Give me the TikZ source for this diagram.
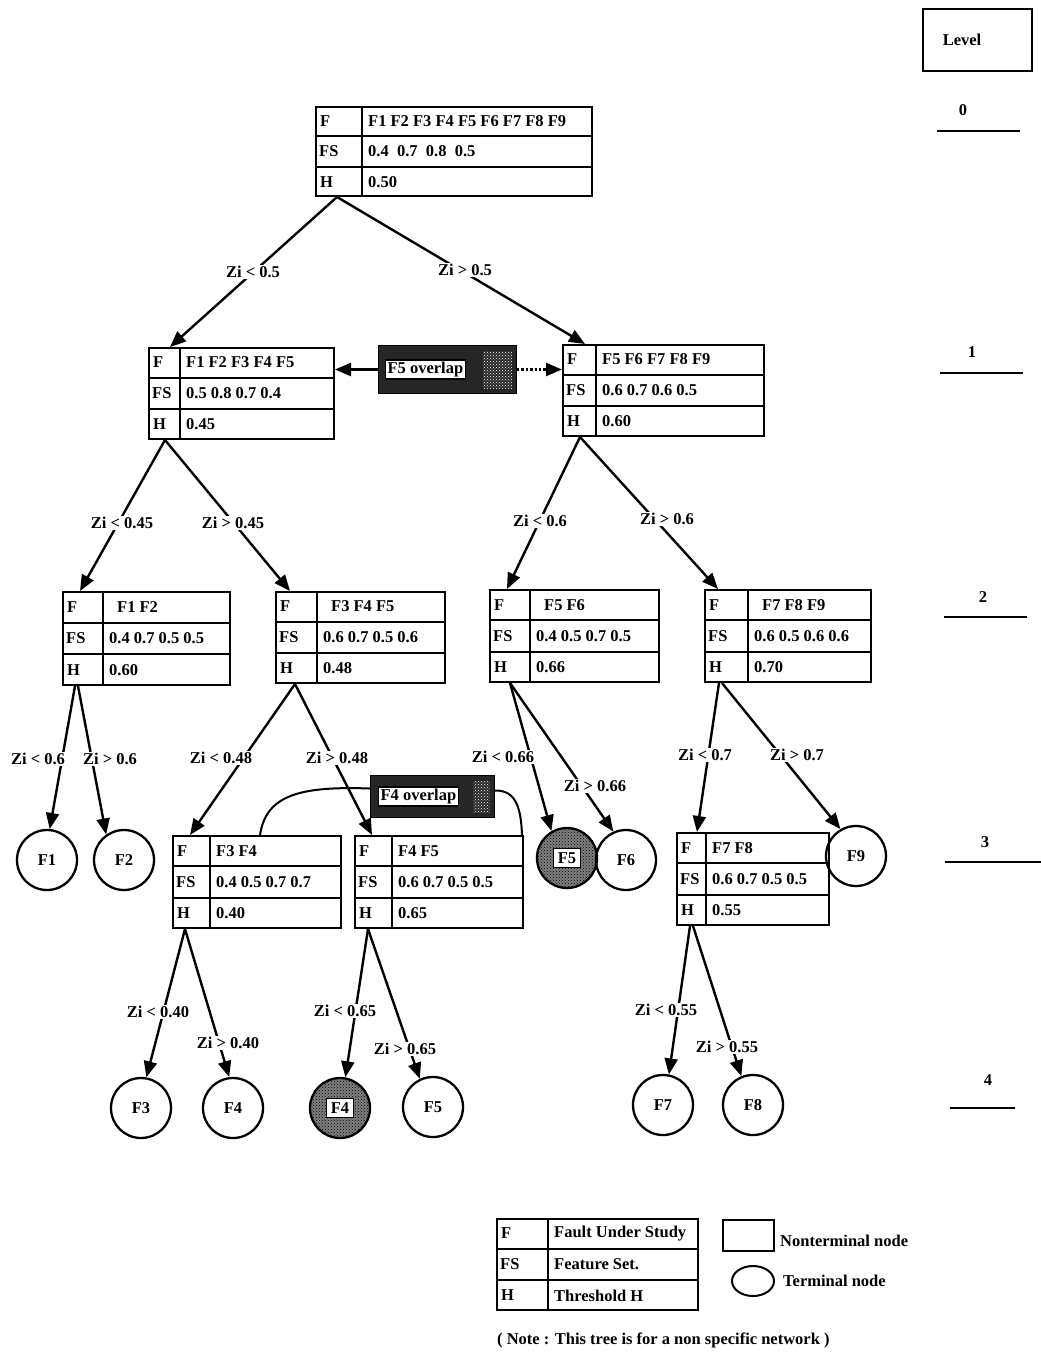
\documentclass[tikz,border=0pt]{standalone}
\usepackage{fontspec}
\setmainfont{Liberation Serif}
\usetikzlibrary{arrows.meta,calc,patterns}
\newcommand\ff{\fontsize{16.5}{16.5}\selectfont\bfseries}
\tikzset{
  tab/.style={draw, line width=2pt, rectangle, inner sep=0pt, anchor=north west},
  cell/.style={anchor=west, inner sep=0pt, font=\ff},
  term/.style={circle, draw, line width=2.3pt, minimum size=60pt, inner sep=0pt, font=\ff},
  edge/.style={line width=2.4pt, -{Triangle[length=16pt,width=13pt]}},
  lbl/.style={fill=white, inner sep=1pt, font=\ff},
  ovbox/.style={fill=black!85, draw=black, line width=1pt, anchor=north west, inner sep=0pt},
  ovlbl/.style={fill=white, draw=black, line width=1.2pt, inner sep=2pt, font=\ff},
  lvl/.style={font=\ff},
  lvlline/.style={line width=1.6pt},
}
% name, x, y, w, h, div, F, FS, H
\newcommand\ftab[9]{%
  \node[tab, minimum width=#4pt, minimum height=#5pt] (#1) at (#2,#3) {};
  \draw[line width=1.8pt] ($(#1.north west)!1/3!(#1.south west)$) -- ($(#1.north east)!1/3!(#1.south east)$);
  \draw[line width=1.8pt] ($(#1.north west)!2/3!(#1.south west)$) -- ($(#1.north east)!2/3!(#1.south east)$);
  \draw[line width=1.8pt] ($(#1.north west)+(#6,0)$) -- ($(#1.south west)+(#6,0)$);
  \node[cell] at ($(#1.north west)!1/6!(#1.south west)+(5,0)$) {F};
  \node[cell] at ($(#1.north west)!1/2!(#1.south west)+(4,0)$) {FS};
  \node[cell] at ($(#1.north west)!5/6!(#1.south west)+(5,0)$) {H};
  \node[cell] at ($(#1.north west)!1/6!(#1.south west)+(#6+6,0)$) {#7};
  \node[cell] at ($(#1.north west)!1/2!(#1.south west)+(#6+6,0)$) {#8};
  \node[cell] at ($(#1.north west)!5/6!(#1.south west)+(#6+6,0)$) {#9};
}
\begin{document}
\begin{tikzpicture}[x=1pt, y=-1pt]
\useasboundingbox (0,0) rectangle (1041,1353);

% Level column
\node[draw, line width=2pt, minimum width=109pt, minimum height=62pt, anchor=north west] (levelbox) at (922,8) {};
\node[lvl] (leveltext) at (962,40) {Level};
\node[lvl] (lv0) at (963,110) {0};
\draw[lvlline] (937,131) -- (1020,131);
\node[lvl] (lv1) at (972,352) {1};
\draw[lvlline] (940,373) -- (1023,373);
\node[lvl] (lv2) at (983,597) {2};
\draw[lvlline] (944,617) -- (1027,617);
\node[lvl] (lv3) at (985,842) {3};
\draw[lvlline] (945,862) -- (1041,862);
\node[lvl] (lv4) at (988,1080) {4};
\draw[lvlline] (950,1108) -- (1015,1108);

% Tables
\ftab{root}{315}{106}{276}{89}{47}{F1 F2 F3 F4 F5 F6 F7 F8 F9}{0.4\ \ 0.7\ \ 0.8\ \ 0.5}{0.50}
\ftab{la}{148}{347}{185}{91}{32}{F1 F2 F3 F4 F5}{0.5 0.8 0.7 0.4}{0.45}
\ftab{lb}{562}{344}{201}{91}{34}{F5 F6 F7 F8 F9}{0.6 0.7 0.6 0.5}{0.60}
\ftab{ta}{62}{591}{167}{93}{41}{\hspace{8pt}F1 F2}{0.4 0.7 0.5 0.5}{0.60}
\ftab{tb}{275}{591}{169}{91}{42}{\hspace{8pt}F3 F4 F5}{0.6 0.7 0.5 0.6}{0.48}
\ftab{tc}{489}{589}{169}{92}{41}{\hspace{8pt}F5 F6}{0.4 0.5 0.7 0.5}{0.66}
\ftab{td}{704}{589}{166}{92}{44}{\hspace{8pt}F7 F8 F9}{0.6 0.5 0.6 0.6}{0.70}
\ftab{te}{172}{835}{168}{92}{38}{F3 F4}{0.4 0.5 0.7 0.7}{0.40}
\ftab{tg}{354}{835}{168}{92}{38}{F4 F5}{0.6 0.7 0.5 0.5}{0.65}
\ftab{th}{676}{832}{152}{92}{30}{F7 F8}{0.6 0.7 0.5 0.5}{0.55}

% Terminal nodes level 3
\node[term] (f1) at (47,860) {F1};
\node[term] (f2) at (124,860) {F2};
\node[term, pattern=crosshatch dots, pattern color=black, preaction={fill=black!50}] (f5s) at (567,858) {};
\node[ovlbl, inner sep=4pt] (f5sl) at (f5s) {F5};
\node[term] (f6) at (626,860) {F6};
\node[term] (f9) at (856,856) {F9};

% Terminal nodes level 4
\node[term] (f3) at (141,1108) {F3};
\node[term] (f4) at (233,1108) {F4};
\node[term, pattern=crosshatch dots, pattern color=black, preaction={fill=black!50}] (f4s) at (340,1108) {};
\node[ovlbl, inner sep=4pt] (f4sl) at (f4s) {F4};
\node[term] (f5) at (433,1107) {F5};
\node[term] (f7) at (663,1105) {F7};
\node[term] (f8) at (753,1105) {F8};

% Overlap boxes
\node[ovbox, minimum width=138pt, minimum height=48pt] (ov5) at (378,345) {};
\fill[pattern=crosshatch dots, pattern color=white] ($(ov5.north east)+(-34,6)$) rectangle ($(ov5.south east)+(-5,-6)$);
\node[ovlbl, anchor=west] (ov5l) at ($(ov5.west)+(7,0)$) {F5 overlap};
\node[ovbox, minimum width=124pt, minimum height=42pt] (ov4) at (370,775) {};
\fill[pattern=crosshatch dots, pattern color=white] ($(ov4.north east)+(-22,6)$) rectangle ($(ov4.south east)+(-5,-6)$);
\node[ovlbl, anchor=west] (ov4l) at ($(ov4.west)+(8,0)$) {F4 overlap};

\draw[edge] (ov5.west) -- (ov5.west -| la.east);
\draw[edge, dotted] (ov5.east) -- (ov5.east -| lb.west);
\draw[line width=2pt] ($(te.north west)+(88,0)$) .. controls (266,795) and (300,786) .. ($(ov4.west)+(0,-8)$);
\draw[line width=2pt] ($(ov4.east)+(0,-6)$) .. controls (516,790) and (521,808) .. ($(tg.north east)+(-2,0)$);

% Edges
\draw[edge] ($(root.south west)+(22,0)$) -- ($(la.north west)+(22,0)$);
\draw[edge] ($(root.south west)+(22,0)$) -- ($(lb.north west)+(23,0)$);
\draw[edge] ($(la.south west)+(17,0)$) -- ($(ta.north west)+(18,0)$);
\draw[edge] ($(la.south west)+(17,0)$) -- ($(tb.north west)+(15,0)$);
\draw[edge] ($(lb.south west)+(18,0)$) -- ($(tc.north west)+(18,0)$);
\draw[edge] ($(lb.south west)+(18,0)$) -- ($(td.north west)+(14,0)$);
\draw[edge] ($(ta.south west)+(13,0)$) -- (f1.85);
\draw[edge] ($(ta.south west)+(16,0)$) -- (f2.125);
\draw[edge] ($(tb.south west)+(20,0)$) -- ($(te.north west)+(18,0)$);
\draw[edge] ($(tb.south west)+(20,0)$) -- ($(tg.north west)+(18,0)$);
\draw[edge] ($(tc.south west)+(21,0)$) -- (f5s.120);
\draw[edge] ($(tc.south west)+(21,0)$) -- (f6.114);
\draw[edge] ($(td.south west)+(15,0)$) -- ($(th.north west)+(21,0)$);
\draw[edge] ($(td.south west)+(18,0)$) -- (f9.120);
\draw[edge] ($(te.south west)+(13,0)$) -- (f3.80);
\draw[edge] ($(te.south west)+(13,0)$) -- (f4.97);
\draw[edge] ($(tg.south west)+(14,0)$) -- (f4s.80);
\draw[edge] ($(tg.south west)+(14,0)$) -- (f5.115);
\draw[edge] ($(th.south west)+(14,0)$) -- (f7.79);
\draw[edge] ($(th.south west)+(17,0)$) -- (f8.112);

% Edge labels
\node[lbl] (l1) at (253,272) {Zi < 0.5};
\node[lbl] (l2) at (465,270) {Zi > 0.5};
\node[lbl] (l3) at (122,523) {Zi < 0.45};
\node[lbl] (l4) at (233,523) {Zi > 0.45};
\node[lbl] (l5) at (540,521) {Zi < 0.6};
\node[lbl] (l6) at (667,519) {Zi > 0.6};
\node[lbl] (l7) at (38,759) {Zi < 0.6};
\node[lbl] (l8) at (110,759) {Zi > 0.6};
\node[lbl] (l9) at (221,758) {Zi < 0.48};
\node[lbl] (l10) at (337,758) {Zi > 0.48};
\node[lbl] (l11) at (503,757) {Zi < 0.66};
\node[lbl] (l12) at (595,786) {Zi > 0.66};
\node[lbl] (l13) at (705,755) {Zi < 0.7};
\node[lbl] (l14) at (797,755) {Zi > 0.7};
\node[lbl] (l15) at (158,1012) {Zi < 0.40};
\node[lbl] (l16) at (228,1043) {Zi > 0.40};
\node[lbl] (l17) at (345,1011) {Zi < 0.65};
\node[lbl] (l18) at (405,1049) {Zi > 0.65};
\node[lbl] (l19) at (666,1010) {Zi < 0.55};
\node[lbl] (l20) at (727,1047) {Zi > 0.55};

% Legend
\ftab{leg}{496}{1218}{201}{91}{52}{Fault Under Study}{Feature Set.}{Threshold H}
\node[draw, line width=2pt, minimum width=51pt, minimum height=31pt, anchor=north west] (ntbox) at (722,1219) {};
\node[cell] (nttext) at (780,1241) {Nonterminal node};
\draw[line width=2pt] (753,1281) ellipse [x radius=21, y radius=15];
\node[cell] (ttext) at (783,1281) {Terminal node};
\node[cell] (note) at (497,1340) {( Note : This tree is for a non specific network )};
\end{tikzpicture}
\end{document}
